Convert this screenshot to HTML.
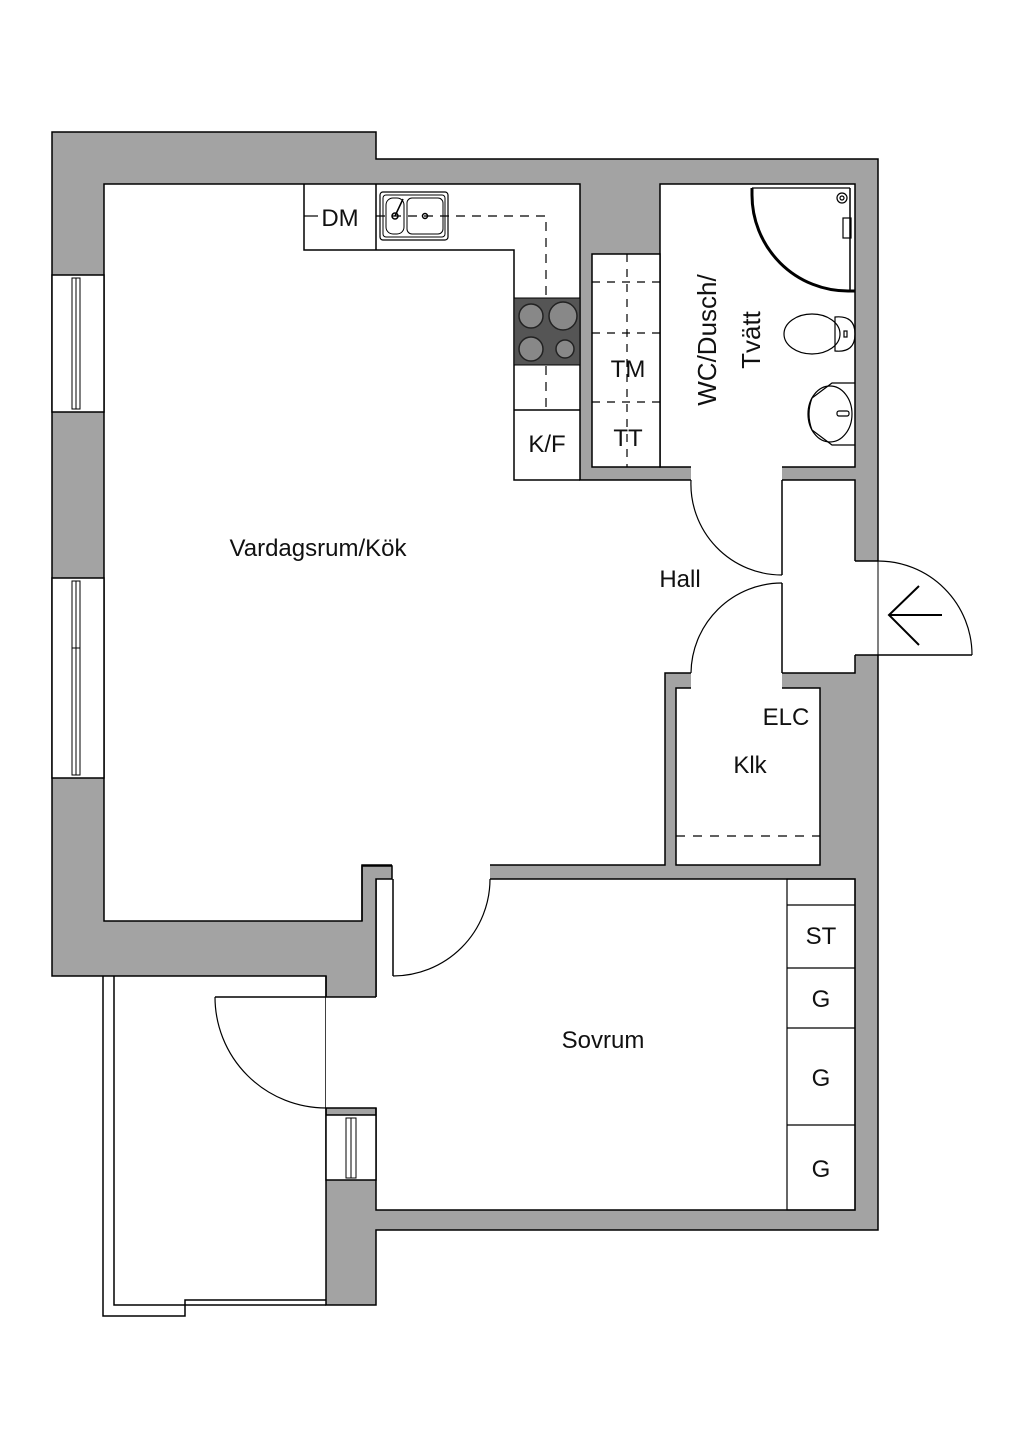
<!DOCTYPE html>
<html><head><meta charset="utf-8"><style>
html,body{margin:0;padding:0;background:#fff;}
svg{display:block;}
text{font-family:"Liberation Sans",sans-serif;fill:#111;}
</style></head><body>
<svg width="1024" height="1448" viewBox="0 0 1024 1448" xmlns="http://www.w3.org/2000/svg">
<g stroke="#000" stroke-width="1.5" fill="none">
<polygon points="52,132 376,132 376,159 878,159 878,1230 376,1230 376,1305 326,1305 326,976 52,976" fill="#a3a3a3"/>
<polygon points="104,184 580,184 580,480 855,480 855,673 665,673 665,865 362,865 362,921 104,921" fill="#fff"/>
<polygon points="376,879 855,879 855,1210 376,1210" fill="#fff"/>
<rect x="660" y="184" width="195" height="283" fill="#fff"/>
<rect x="592" y="254" width="68" height="213" fill="#fff"/>
<rect x="676" y="688" width="144" height="177" fill="#fff"/>
</g>
<g fill="#fff" stroke="none">
<rect x="691" y="465" width="91" height="17"/>
<rect x="691" y="671" width="91" height="19"/>
<rect x="854" y="561" width="26" height="94"/>
<rect x="392" y="863" width="98" height="18"/>
<rect x="326" y="997" width="51" height="111"/>
<rect x="377" y="879" width="16" height="118"/>
<rect x="52" y="275" width="52" height="137"/>
<rect x="52" y="578" width="52" height="200"/>
<rect x="326" y="1115" width="50" height="65"/>
</g>
<g fill="#a3a3a3" stroke="none">
<rect x="363" y="866" width="13" height="131"/>
<rect x="363" y="866" width="29" height="13"/>
</g>
<g stroke="#000" stroke-width="1.5" fill="none">
<polyline points="326,976 326,997 376,997"/>
<polyline points="362,921 362,866 392,866 392,879 376,879 376,997"/>
<line x1="855" y1="561" x2="878" y2="561"/><line x1="855" y1="655" x2="878" y2="655"/>
<line x1="878" y1="561" x2="878" y2="655" stroke-width="1"/>
<rect x="52" y="275" width="52" height="137"/>
<rect x="72" y="278" width="8" height="131" stroke-width="1"/>
<line x1="76" y1="278" x2="76" y2="409" stroke-width="1"/>
<rect x="52" y="578" width="52" height="200"/>
<rect x="72" y="581" width="8" height="194" stroke-width="1"/>
<line x1="76" y1="581" x2="76" y2="775" stroke-width="1"/>
<line x1="72" y1="648" x2="80" y2="648" stroke-width="1"/>
<rect x="326" y="1108" width="50" height="72"/>
<line x1="326" y1="1115" x2="376" y2="1115"/>
<rect x="346" y="1118" width="10" height="60" stroke-width="1"/>
<line x1="351" y1="1118" x2="351" y2="1178" stroke-width="1"/>
<line x1="782" y1="480" x2="782" y2="575"/>
<path d="M691,480 A91,91 0 0 0 782,575" stroke-width="1.2"/>
<line x1="782" y1="583" x2="782" y2="673"/>
<path d="M691,673 A91,91 0 0 1 782,583" stroke-width="1.2"/>
<line x1="393" y1="879" x2="393" y2="976"/>
<path d="M393,976 A97,97 0 0 0 490,879" stroke-width="1.2"/>
<line x1="878" y1="655" x2="972" y2="655"/>
<path d="M878,561 A94,94 0 0 1 972,655" stroke-width="1.2"/>
<line x1="889" y1="615" x2="942" y2="615" stroke-width="2"/>
<polyline points="919,586 889,615 919,645" stroke-width="2"/>
<polyline points="103,976 103,1316 185,1316 185,1300 326,1300"/>
<polyline points="114,976 114,1305 326,1305"/>
<line x1="215" y1="997" x2="326" y2="997"/>
<path d="M215,997 A111,111 0 0 0 326,1108" stroke-width="1.2"/>
<polyline points="304,184 304,250 514,250 514,480 580,480"/>
<line x1="376" y1="184" x2="376" y2="250"/>
<line x1="514" y1="410" x2="580" y2="410"/>
<polyline points="376,216 546,216 546,410" stroke-dasharray="9,7" stroke-width="1.2"/>
<line x1="304" y1="216" x2="318" y2="216" stroke-width="1.2"/>
<rect x="380" y="192" width="68" height="48" rx="3" stroke-width="1.2"/>
<rect x="383" y="195" width="62" height="42" rx="3" stroke-width="1"/>
<rect x="386" y="198" width="18" height="36" rx="7" stroke-width="1"/>
<rect x="407" y="198" width="36" height="36" rx="5" stroke-width="1"/>
<circle cx="395" cy="216" r="3"/><line x1="395" y1="216" x2="403" y2="199"/>
<circle cx="425" cy="216" r="2.5"/>
</g>
<rect x="514" y="298" width="66" height="67" fill="#555" stroke="#000"/>
<g fill="#888" stroke="#222" stroke-width="1.5">
<circle cx="531" cy="316" r="12"/><circle cx="563" cy="316" r="14"/>
<circle cx="531" cy="349" r="12"/><circle cx="565" cy="349" r="9"/>
</g>
<g stroke="#000" stroke-width="1.2" fill="none">
<line x1="592" y1="282" x2="660" y2="282" stroke-dasharray="8,7"/>
<line x1="592" y1="333" x2="660" y2="333" stroke-dasharray="8,7"/>
<line x1="592" y1="402" x2="660" y2="402" stroke-dasharray="8,7"/>
<line x1="627" y1="254" x2="627" y2="467" stroke-dasharray="8,7"/>
<line x1="676" y1="836" x2="820" y2="836" stroke-dasharray="9,8"/>
<path d="M752,188 L752,195 A96,96 0 0 0 848,291 L855,291" stroke-width="3"/>
<path d="M755,190 A93,93 0 0 0 848,288" stroke-width="1" stroke="#fff"/>
<line x1="850" y1="188" x2="850" y2="290" stroke-width="1.5"/>
<line x1="752" y1="188" x2="850" y2="188"/>
<circle cx="842" cy="198" r="5"/><circle cx="842" cy="198" r="2"/>
<rect x="843" y="218" width="8" height="20"/>
<ellipse cx="812" cy="334" rx="28" ry="20"/>
<path d="M835,317 Q855,315 855,334 Q855,353 835,351 Z"/>
<rect x="844" y="331" width="3" height="6"/>
<path d="M855,383 L832,383 L812,398 Q806,414 812,430 L832,445 L855,445"/>
<ellipse cx="830" cy="414" rx="22" ry="28"/>
<rect x="837" y="411" width="12" height="5" rx="2"/>
<rect x="787" y="879" width="68" height="331" fill="none"/>
<line x1="787" y1="905" x2="855" y2="905"/>
<line x1="787" y1="968" x2="855" y2="968"/>
<line x1="787" y1="1028" x2="855" y2="1028"/>
<line x1="787" y1="1125" x2="855" y2="1125"/>
</g>
<g font-size="24" text-anchor="middle">
<text x="318" y="556">Vardagsrum/Kök</text>
<text x="680" y="587">Hall</text>
<text x="786" y="725">ELC</text>
<text x="750" y="773">Klk</text>
<text x="603" y="1048">Sovrum</text>
<text x="340" y="226">DM</text>
<text x="547" y="452">K/F</text>
<text x="628" y="377">TM</text>
<text x="628" y="446">TT</text>
<text x="821" y="944">ST</text>
<text x="821" y="1007">G</text>
<text x="821" y="1086">G</text>
<text x="821" y="1177">G</text>
<g transform="translate(716,340) rotate(-90)" font-size="26">
<text x="0" y="0">WC/Dusch/</text>
<text x="0" y="44">Tvätt</text>
</g>
</g>
</svg>
</body></html>
